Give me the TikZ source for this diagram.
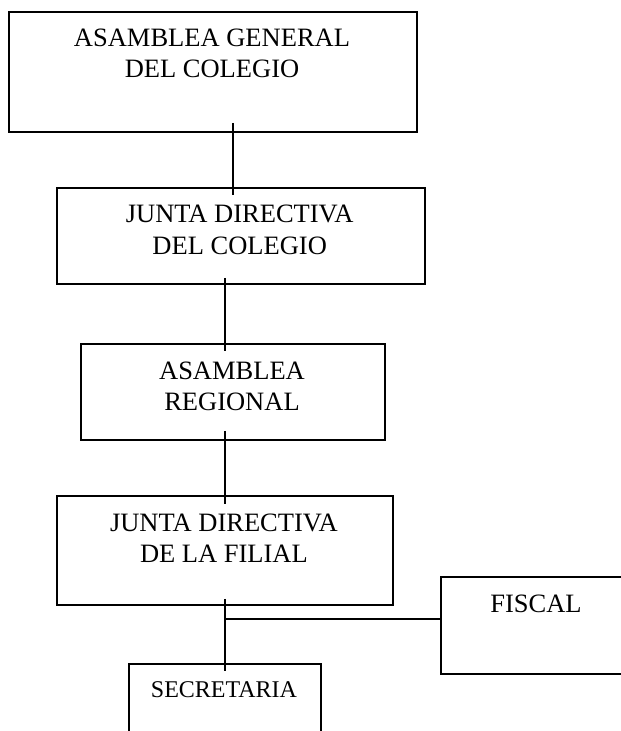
\documentclass[tikz,border=0pt]{standalone}
\usepackage{fontspec}
\setmainfont{Liberation Serif}
\begin{document}
\begin{tikzpicture}[x=1pt,y=-1pt,
  box/.style={draw=black,line width=1.8pt,rectangle,inner sep=0pt,anchor=north west},
  txt/.style={anchor=base,inner sep=0pt,font=\fontsize{26.5}{30}\selectfont},
  stxt/.style={anchor=base,inner sep=0pt,font=\fontsize{24}{28}\selectfont},
  conn/.style={draw=black,line width=1.6pt}]
\useasboundingbox (0,0) rectangle (621,731);
\fill[white] (0,0) rectangle (621,731);
\clip (0,0) rectangle (621,731);
% boxes
\node[box,minimum width=408pt,minimum height=119.7pt] (b1) at (8,11) {};
\node[box,minimum width=368pt,minimum height=96pt] (b2) at (55.7,187) {};
\node[box,minimum width=304pt,minimum height=96.3pt] (b3) at (80,342.7) {};
\node[box,minimum width=336.3pt,minimum height=109pt] (b4) at (55.7,495) {};
\node[box,minimum width=192pt,minimum height=97pt] (fis) at (440,576) {};
\node[box,minimum width=192pt,minimum height=100pt] (sec) at (128,663) {};
% texts
\node[txt] (t1a) at (212,46.7) {ASAMBLEA GENERAL};
\node[txt] (t1b) at (212,77.3) {DEL COLEGIO};
\node[txt] (t2a) at (239.7,222.7) {JUNTA DIRECTIVA};
\node[txt] (t2b) at (239.7,254) {DEL COLEGIO};
\node[txt] (t3a) at (232,379.3) {ASAMBLEA};
\node[txt] (t3b) at (232,410) {REGIONAL};
\node[txt] (t4a) at (223.9,531) {JUNTA DIRECTIVA};
\node[txt] (t4b) at (223.9,562) {DE LA FILIAL};
\node[txt] (tf) at (536,612.7) {FISCAL};
\node[stxt] (ts) at (224,697.3) {SECRETARIA};
% connectors
\draw[conn] ([xshift=20pt,yshift=9.7pt]b1.south) -- ++(0,72);
\draw[conn] ([xshift=-15.7pt,yshift=7pt]b2.south) -- ++(0,73);
\draw[conn] ([xshift=-8pt,yshift=10pt]b3.south) -- ++(0,73);
\draw[conn] ([yshift=7pt]b4.south) -- ++(0,72);
\draw[conn] ([yshift=6.5pt]fis.west) -- ++(-216,0);
\end{tikzpicture}
\end{document}
